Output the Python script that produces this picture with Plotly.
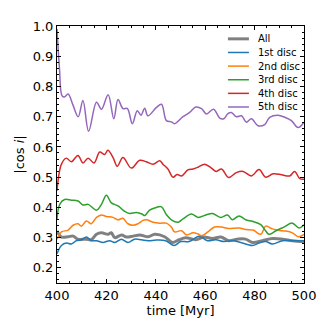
import plotly.graph_objects as go

# time [Myr] and |cos i|, one pair of lists per series
t_all = [400, 401.8, 404.5, 406.5, 408.5, 411.9, 413.9, 416, 418, 420.6, 422, 423.4, 426.1, 428.1, 430.8,
         433.5, 436.9, 439.6, 443.6, 446.7, 449.4, 452.1, 456.2, 459.5, 462.9, 466.3, 469.6, 473, 476.4,
         479.1, 483.2, 487.2, 491.3, 495.3, 500]
cos_all = [0.322, 0.302, 0.303, 0.305, 0.295, 0.295, 0.293, 0.311, 0.316, 0.311, 0.316, 0.30, 0.309, 0.302,
           0.305, 0.309, 0.303, 0.311, 0.303, 0.284, 0.293, 0.30, 0.293, 0.302, 0.297, 0.302, 0.29, 0.295,
           0.295, 0.284, 0.29, 0.297, 0.295, 0.29, 0.287]

t_1 = [400, 401.8, 403.8, 405.8, 407.9, 409.9, 411.9, 413.9, 416, 418.6, 421.3, 423.4, 426.1, 428.7, 431.4,
       434.2, 436.9, 440.2, 444, 447.4, 450.1, 453.5, 457.5, 460.9, 464.3, 467.6, 471, 474.4, 479.1, 481.8,
       484.5, 487.2, 491.3, 495.3, 500]
cos_1 = [0.247, 0.274, 0.282, 0.279, 0.29, 0.293, 0.302, 0.29, 0.29, 0.284, 0.29, 0.284, 0.295, 0.284, 0.295,
         0.293, 0.29, 0.292, 0.29, 0.274, 0.287, 0.287, 0.305, 0.29, 0.293, 0.287, 0.29, 0.284, 0.274, 0.282,
         0.287, 0.279, 0.29, 0.29, 0.29]

t_2 = [400, 401.8, 404.5, 406.5, 408.5, 409.9, 411.9, 413.9, 416, 418, 420, 422.7, 424.7, 426.7, 428.7,
       430.8, 432.8, 434.8, 436.2, 438.9, 441.6, 444.3, 446.3, 447.6, 450.4, 452.4, 455.1, 457.1, 458.5,
       461.1, 463.8, 466.6, 469.4, 473.7, 476.4, 479.4, 482.5, 484.5, 487.2, 489.9, 492.6, 495.3, 497.7, 500]
cos_2 = [0.295, 0.319, 0.325, 0.341, 0.346, 0.338, 0.355, 0.346, 0.367, 0.375, 0.37, 0.367, 0.359, 0.364,
         0.346, 0.341, 0.346, 0.357, 0.359, 0.351, 0.348, 0.348, 0.335, 0.319, 0.323, 0.309, 0.316, 0.312,
         0.306, 0.319, 0.335, 0.335, 0.33, 0.332, 0.327, 0.325, 0.311, 0.338, 0.329, 0.324, 0.322, 0.316,
         0.303, 0.311]

t_3 = [400, 401.1, 403.1, 405.8, 408.5, 410.5, 412.6, 416, 418, 420, 422, 424.7, 427.4, 429.4, 432.1,
       434.4, 435.5, 437.5, 440.2, 442.3, 444.3, 446.3, 449, 451, 454.4, 457.1, 460.5, 462.9, 466.3, 469,
       471, 473.7, 476.4, 479.1, 482.5, 484.5, 485.8, 488.5, 491.9, 495.3, 498, 500]
cos_3 = [0.362, 0.41, 0.426, 0.424, 0.421, 0.408, 0.41, 0.391, 0.41, 0.44, 0.415, 0.405, 0.387, 0.38, 0.383,
         0.378, 0.373, 0.391, 0.40, 0.402, 0.376, 0.359, 0.351, 0.362, 0.378, 0.367, 0.376, 0.38, 0.367,
         0.375, 0.359, 0.372, 0.359, 0.354, 0.343, 0.322, 0.311, 0.322, 0.335, 0.348, 0.332, 0.343]

t_4 = [400, 401.8, 403.8, 405.8, 408.5, 410.5, 412.6, 415, 417.3, 419.3, 420.6, 422.7, 424.4, 426.7, 430.1,
       433.5, 436.2, 438.9, 441.6, 442.9, 444.9, 447, 448.6, 450.4, 453, 455.1, 457.1, 459.8, 462.5, 464.5,
       466.6, 469.5, 472.6, 475.3, 478.7, 481.8, 484.5, 487.5, 490.9, 494.2, 496.2, 498.3, 500]
cos_4 = [0.455, 0.543, 0.563, 0.551, 0.572, 0.547, 0.563, 0.547, 0.583, 0.575, 0.589, 0.565, 0.536, 0.565,
         0.53, 0.556, 0.551, 0.543, 0.554, 0.543, 0.527, 0.50, 0.509, 0.504, 0.524, 0.527, 0.533, 0.543,
         0.53, 0.519, 0.527, 0.499, 0.515, 0.519, 0.504, 0.525, 0.50, 0.511, 0.508, 0.504, 0.519, 0.495, 0.493]

t_5 = [400, 401, 402, 403, 404.5, 406.4, 408.6, 410.5, 412.8, 416, 418, 420.7, 423, 424.7, 426.7, 428.5,
       430.5, 432.5, 434, 435.5, 436.8, 440.2, 442.3, 444.3, 446.3, 447.6, 451, 453.7, 456.2, 458.5, 460.5,
       463.4, 465.9, 467.5, 469.2, 470.6, 472.6, 474.7, 476.7, 478.7, 481.4, 484.1, 486.1, 489.5, 492.2,
       494.9, 497.6, 500]
cos_5 = [0.99, 0.86, 0.77, 0.765, 0.775, 0.74, 0.70, 0.754, 0.652, 0.748, 0.725, 0.773, 0.693, 0.757, 0.727,
         0.727, 0.677, 0.72, 0.705, 0.728, 0.703, 0.73, 0.741, 0.687, 0.683, 0.677, 0.70, 0.714, 0.732, 0.727,
         0.709, 0.725, 0.695, 0.693, 0.71, 0.714, 0.70, 0.703, 0.682, 0.693, 0.67, 0.674, 0.698, 0.705, 0.698,
         0.687, 0.664, 0.682]

names = ["All", "1st disc", "2nd disc", "3rd disc", "4th disc", "5th disc"]
times = [t_all, t_1, t_2, t_3, t_4, t_5]
values = [cos_all, cos_1, cos_2, cos_3, cos_4, cos_5]
colors = ["#808080", "#1f77b4", "#ff7f0e", "#2ca02c", "#d62728", "#9467bd"]
widths = [3, 1.5, 1.5, 1.5, 1.5, 1.5]

fig = go.Figure()
for name, t, c, col, w in zip(names, times, values, colors, widths):
    fig.add_trace(go.Scatter(x=t, y=c, name=name, mode="lines", showlegend=False,
                             line=dict(color=col, width=w, shape="spline", smoothing=1.0)))

# matplotlib-like legend, rows are tighter than plotly's own legend allows
row_h = 14 / 264
for k, (name, col, w) in enumerate(zip(names, colors, widths)):
    yk = 0.95 - k * row_h
    fig.add_shape(type="line", xref="paper", yref="paper", x0=0.692, x1=0.777, y0=yk, y1=yk,
                  line=dict(color=col, width=w))
    fig.add_annotation(xref="paper", yref="paper", x=0.805, y=yk, text=name, showarrow=False,
                       xanchor="left", yanchor="middle", font=dict(size=10, color="black"))

axis_style = dict(showline=True, linecolor="black", linewidth=1, mirror="allticks",
                  ticks="inside", ticklen=4, tickcolor="black", showgrid=False, zeroline=False,
                  tickfont=dict(size=13, color="black"))

# page body has an 8px margin, so the figure is 8px smaller and shifted
fig.update_layout(
    width=324, height=324,
    margin=dict(l=49, r=28, t=11, b=49),
    paper_bgcolor="white", plot_bgcolor="white",
    font=dict(family="DejaVu Sans", color="black"),
    showlegend=False,
)
fig.update_xaxes(range=[400, 500], dtick=20, **axis_style,
                 minor=dict(dtick=5, ticks="inside", ticklen=2, tickcolor="black"),
                 title=dict(text="time [Myr]", font=dict(size=13), standoff=3))
fig.update_yaxes(range=[0.15, 1.0], dtick=0.1, tickformat=".1f", **axis_style,
                 minor=dict(dtick=0.02, ticks="inside", ticklen=2, tickcolor="black"),
                 title=dict(text="|cos <i>i</i>|", font=dict(size=13), standoff=5))

fig.write_html("out.html")
